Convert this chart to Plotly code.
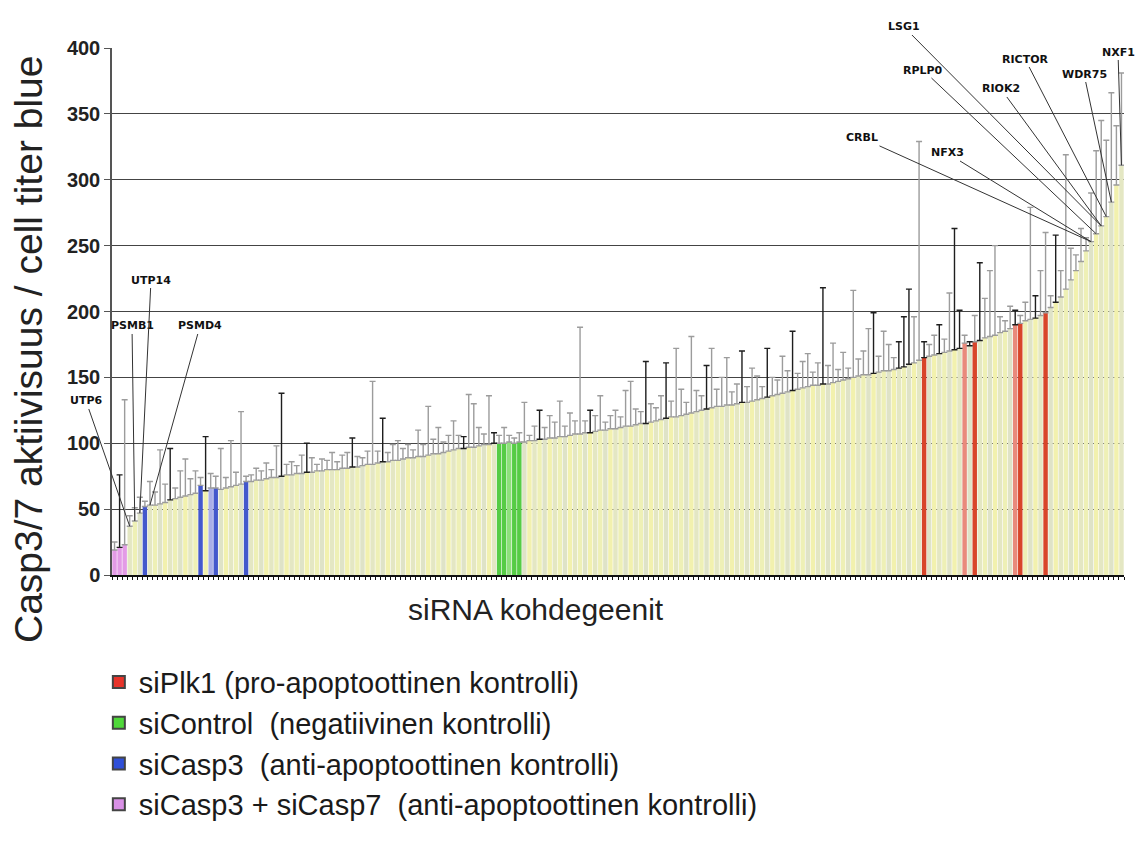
import plotly.graph_objects as go

# ---------------- data ----------------
values = [19, 21, 23, 37, 41, 47, 52, 53, 53, 54,
          55, 57, 58, 59, 60, 61, 62, 68, 64, 66,
          66, 65, 66, 67, 68, 69, 71, 71, 72, 72,
          73, 74, 74, 75, 76, 76, 77, 77, 78, 78,
          79, 79, 80, 80, 80, 81, 81, 82, 82, 83,
          84, 84, 85, 86, 86, 87, 87, 88, 89, 89,
          90, 90, 91, 92, 92, 93, 94, 95, 96, 96,
          97, 97, 98, 99, 99, 100, 100, 100, 101, 100,
          101, 101, 102, 102, 103, 103, 104, 104, 105, 105,
          106, 107, 107, 108, 108, 109, 110, 110, 111, 111,
          112, 113, 113, 114, 115, 115, 116, 117, 118, 119,
          120, 120, 121, 122, 123, 124, 125, 126, 127, 128,
          128, 129, 129, 130, 131, 131, 132, 133, 134, 135,
          136, 137, 138, 139, 140, 141, 142, 143, 144, 144,
          145, 145, 146, 147, 148, 149, 150, 151, 152, 152,
          153, 154, 155, 155, 156, 157, 158, 160, 161, 163,
          165, 166, 167, 168, 169, 170, 171, 172, 176, 174,
          177, 178, 180, 181, 182, 184, 185, 187, 190, 191,
          193, 194, 195, 197, 199, 203, 207, 211, 217, 224,
          231, 238, 246, 253, 259, 265, 272, 283, 296, 311]

errors = [6, 55, 110, 8, 10, 12, 4, 18, 10, 41,
          14, 39, 8, 20, 28, 12, 17, 6, 41, 11,
          9, 31, 8, 35, 10, 55, 4, 5, 9, 7,
          12, 6, 24, 63, 8, 10, 6, 14, 22, 11,
          5, 9, 7, 13, 6, 10, 12, 22, 8, 6,
          10, 63, 9, 33, 7, 12, 15, 8, 10, 6,
          20, 9, 37, 11, 20, 8, 12, 22, 10, 9,
          40, 33, 14, 8, 37, 8, 6, 12, 5, 4,
          7, 30, 4, 11, 22, 9, 17, 12, 27, 8,
          17, 10, 81, 9, 17, 12, 26, 6, 10, 14,
          8, 27, 34, 12, 9, 47, 14, 10, 18, 42,
          12, 52, 20, 9, 58, 16, 11, 33, 45, 13,
          22, 36, 10, 15, 39, 12, 25, 18, 9, 37,
          14, 11, 28, 16, 45, 12, 20, 25, 10, 17,
          73, 14, 30, 9, 21, 8, 66, 13, 18, 35,
          46, 12, 30, 20, 9, 20, 38, 57, 35, 166,
          12, 9, 15, 22, 10, 44, 92, 29, 6, 3,
          20, 59, 30, 50, 68, 12, 8, 17, 11, 6,
          14, 85, 17, 34, 61, 9, 51, 20, 102, 24,
          12, 25, 10, 37, 63, 80, 58, 83, 45, 70]

# indices of control wells
plk1_idx = [160, 168, 170, 178, 179, 184]
control_idx = [76, 77, 78, 79, 80]
casp3_idx = [6, 17, 19, 20, 26]
casp37_idx = [0, 1, 2]

# error bars drawn in black (the rest grey)
dark_err_idx = [1, 11, 18, 33, 38, 47, 53, 69, 75, 84, 94, 105, 109, 117,
                124, 129, 134, 140, 150, 155, 156, 157, 160, 163, 166, 167,
                169, 171, 178, 182, 186]

# labelled genes: (name, bar index)
gene_labels = ["UTP6", "PSMB1", "UTP14", "PSMD4",
               "CRBL", "NFX3", "RPLP0", "LSG1", "RIOK2", "RICTOR", "WDR75", "NXF1"]
gene_idx = [3, 4, 5, 7, 193, 193, 194, 195, 195, 196, 197, 199]

legend_names = ["siPlk1 (pro-apoptoottinen kontrolli)",
                "siControl  (negatiivinen kontrolli)",
                "siCasp3  (anti-apoptoottinen kontrolli)",
                "siCasp3 + siCasp7  (anti-apoptoottinen kontrolli)"]
legend_colors = ["#e8332a", "#4fd83a", "#2f4fd8", "#d990e6"]

y_ticks = [0, 50, 100, 150, 200, 250, 300, 350, 400]

# ---------------- styling ----------------
N = len(values)
x = list(range(N))

stripe = ["#eef0b6", "#dfe3c7", "#f2f1ae", "#e4e7c3"]
colors = [stripe[i % 4] for i in range(N)]
for k, i in enumerate(plk1_idx):
    colors[i] = "#d8452a" if k not in (1, 3) else "#e98a7c"
for k, i in enumerate(control_idx):
    colors[i] = "#56cc45" if k != 2 else "#8fe07c"
for k, i in enumerate(casp3_idx):
    colors[i] = "#4458cc" if k != 2 else "#a9aee8"
for i in casp37_idx:
    colors[i] = "#e39be6"

fig = go.Figure()
fig.add_trace(go.Bar(x=x, y=values, marker=dict(color=colors, line=dict(width=0)),
                     showlegend=False, hoverinfo="skip"))

dark_set = set(dark_err_idx)
for dark in (False, True):
    xs = [i for i in x if (i in dark_set) == dark]
    fig.add_trace(go.Scatter(
        x=xs, y=[values[i] for i in xs], mode="markers",
        marker=dict(size=1, opacity=0),
        error_y=dict(type="data", symmetric=False,
                     array=[errors[i] for i in xs],
                     arrayminus=[0] * len(xs),
                     color="#1e1e1e" if dark else "#9c9c9c",
                     thickness=1.4, width=3),
        showlegend=False, hoverinfo="skip"))

for name, col in zip(legend_names, legend_colors):
    fig.add_trace(go.Bar(x=[None], y=[None], name=name,
                         marker=dict(color=col, line=dict(color="#444", width=1))))

# plot geometry (pixels) used only to place label text
L, R, T, B = 104, 28, 40, 300
W, H = 1144, 867
pw, ph = W - L - R, H - T - B

def px(i):
    return L + (i + 0.5) * pw / N

def py(v):
    return T + ph * (1 - v / 400.0)

label_pos = {
    "UTP6": (78, 393), "PSMB1": (124, 318), "UTP14": (143, 272), "PSMD4": (192, 318),
    "CRBL": (854, 130), "NFX3": (939, 145), "RPLP0": (915, 62), "LSG1": (896, 19),
    "RIOK2": (993, 81), "RICTOR": (1017, 51), "WDR75": (1076, 66), "NXF1": (1110, 44),
}

annotations = []
for name, i in zip(gene_labels, gene_idx):
    lx, ly = label_pos[name]
    tx, ty = px(i), py(values[i])
    annotations.append(dict(
        x=i, y=values[i], xref="x", yref="y",
        ax=lx - tx, ay=ly - ty, axref="pixel", ayref="pixel",
        text="<b>%s</b>" % name, showarrow=True, arrowhead=0,
        arrowwidth=1, arrowcolor="#333",
        font=dict(family="DejaVu Sans", size=11, color="#111")))

annotations.append(dict(
    text="Casp3/7 aktiivisuus / cell titer blue", textangle=-90,
    xref="paper", yref="paper", x=(20 - L) / pw, y=(H - B - 342) / ph,
    xanchor="center", yanchor="middle", showarrow=False,
    font=dict(family="Liberation Sans", size=39, color="#222")))

annotations.append(dict(
    text="siRNA kohdegeenit",
    xref="paper", yref="paper", x=(528 - L) / pw, y=(H - B - 601) / ph,
    xanchor="center", yanchor="middle", showarrow=False,
    font=dict(family="Liberation Sans", size=30, color="#222")))

fig.update_layout(
    width=W, height=H,
    margin=dict(l=L, r=R, t=T, b=B),
    paper_bgcolor="white", plot_bgcolor="white",
    bargap=0.12,
    annotations=annotations,
    showlegend=True,
    legend=dict(x=-0.013, y=-0.155, xanchor="left", yanchor="top",
                font=dict(family="Liberation Sans", size=29, color="#1a1a1a"),
                bgcolor="rgba(0,0,0,0)", itemsizing="constant"),
    xaxis=dict(range=[-0.5, N - 0.5], showgrid=False, zeroline=False,
               showticklabels=False, ticks="outside", tickmode="linear",
               tick0=-0.5, dtick=1, ticklen=3, tickcolor="#111", tickwidth=1,
               showline=True, linecolor="#111", linewidth=2),
    yaxis=dict(range=[0, 400], tickvals=y_ticks, showgrid=True,
               gridcolor="#444", gridwidth=1.2, zeroline=False,
               showline=True, linecolor="#555", linewidth=1.5,
               ticks="outside", ticklen=6, tickcolor="#555",
               tickfont=dict(family="Liberation Sans", size=20, color="#222", weight="bold")),
)

fig.write_html("out.html")
